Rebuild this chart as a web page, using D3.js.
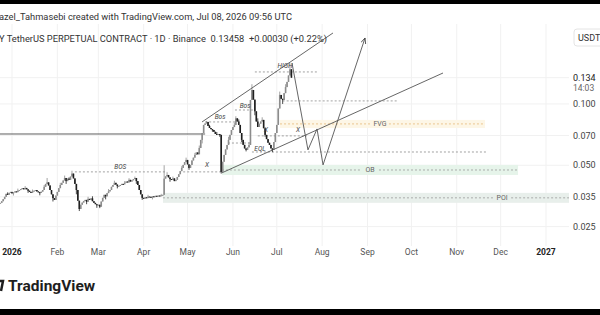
<!DOCTYPE html>
<html>
<head>
<meta charset="utf-8">
<script src="https://cdn.jsdelivr.net/npm/d3@7/dist/d3.min.js"></script>
<style>
    body { margin: 0; background: #fff; overflow: hidden; }
    svg { display: block; font-family: Roboto, "Noto Sans", sans-serif; }
</style>
</head>
<body>
<div id="chart"></div>
<script>
var svgWidth = 600;
var svgHeight = 315;

// Daily closes, first candle on 2025-12-24
var startDay = Date.UTC(2025, 11, 24);
var closes = [
    0.0327, 0.0333, 0.0341, 0.0350, 0.0362, 0.0358, 0.0366, 0.0370,
    0.0364, 0.0368, 0.0372, 0.0369, 0.0375, 0.0378,
    0.0382, 0.0386, 0.0381, 0.0387, 0.0381, 0.0375, 0.0370,
    0.0366, 0.0372, 0.0375, 0.0378, 0.0372, 0.0369, 0.0366,
    0.0371, 0.0378, 0.0392, 0.0405, 0.0412,
    0.0398, 0.0378, 0.0360, 0.0345, 0.0338,
    0.0355, 0.0370, 0.0386, 0.0400, 0.0410, 0.0421, 0.0433,
    0.0418, 0.0430, 0.0424, 0.0440, 0.0455,
    0.0431, 0.0405, 0.0378, 0.0335, 0.0305,
    0.0320, 0.0328, 0.0334, 0.0338, 0.0331, 0.0342, 0.0338,
    0.0344, 0.0333, 0.0327, 0.0322, 0.0318, 0.0320, 0.0313,
    0.0332, 0.0346, 0.0358, 0.0352, 0.0365, 0.0372, 0.0378,
    0.0392, 0.0400, 0.0410, 0.0402, 0.0395, 0.0396,
    0.0400, 0.0405, 0.0403, 0.0410, 0.0416, 0.0412, 0.0424,
    0.0416, 0.0422, 0.0428, 0.0433, 0.0418, 0.0400,
    0.0378, 0.0360, 0.0346,
    0.0343, 0.0348, 0.0345, 0.0351, 0.0350, 0.0347, 0.0352, 0.0349, 0.0354,
    0.0351, 0.0355, 0.0353, 0.0356, 0.0358,
    0.0430, 0.0441, 0.0448, 0.0436, 0.0428, 0.0424,
    0.0431, 0.0418, 0.0424, 0.0438, 0.0452, 0.0468, 0.0485,
    0.0502, 0.0518, 0.0531, 0.0505, 0.0485,
    0.0502, 0.0528, 0.0545, 0.0562, 0.0578, 0.0566, 0.0608,
    0.0666, 0.0720, 0.0789, 0.0802, 0.0816,
    0.0780, 0.0762, 0.0752, 0.0745, 0.0730, 0.0712, 0.0705, 0.0712, 0.0705,
    0.0464,
    0.0520, 0.0562, 0.0598, 0.0629, 0.0666, 0.0705, 0.0745,
    0.0770, 0.0789, 0.0850,
    0.0820, 0.0789, 0.0720, 0.0666,
    0.0630, 0.0605, 0.0595, 0.0612, 0.0629,
    0.1046, 0.1171,
    0.1050, 0.0920, 0.0820, 0.0771, 0.0800, 0.0820, 0.0835,
    0.0760, 0.0705, 0.0672, 0.0645, 0.0629, 0.0605, 0.0595,
    0.0650, 0.0720, 0.0789, 0.0950, 0.1107,
    0.1060, 0.1046, 0.1130, 0.1210, 0.1283,
    0.1380, 0.1480, 0.1346
];
// wicks that stick out past the bodies: [day index, price]
var highWicks = [
    [5, 0.0368], [12, 0.0384], [17, 0.0395], [22, 0.0380], [30, 0.0400], [32, 0.0433],
    [41, 0.0410], [44, 0.0445], [47, 0.0436], [49, 0.0470], [60, 0.0350], [63, 0.0352],
    [74, 0.0382], [78, 0.0420], [85, 0.0418], [88, 0.0432], [92, 0.0440], [101, 0.0358],
    [110, 0.0362], [112, 0.0500], [114, 0.0462], [118, 0.0440], [124, 0.0495], [127, 0.0545],
    [133, 0.0575], [136, 0.0625], [141, 0.0825], [143, 0.0790], [148, 0.0728], [156, 0.0690],
    [160, 0.0810], [161, 0.0870], [163, 0.0840], [170, 0.0650], [172, 0.1250], [176, 0.0850],
    [179, 0.0860], [183, 0.0668], [191, 0.1150], [195, 0.1250], [198, 0.1580]
];
var lowWicks = [
    [9, 0.0355], [19, 0.0366], [27, 0.0356], [36, 0.0332], [45, 0.0405], [52, 0.0360],
    [54, 0.0298], [59, 0.0322], [66, 0.0309], [68, 0.0308], [72, 0.0340], [80, 0.0385],
    [93, 0.0405], [97, 0.0338], [104, 0.0340], [116, 0.0415], [129, 0.0475], [138, 0.0640],
    [145, 0.0730], [150, 0.0690], [151, 0.0455], [155, 0.0600], [165, 0.0650], [168, 0.0585],
    [174, 0.0880], [181, 0.0690], [186, 0.0580], [189, 0.0740], [193, 0.1000]
];

var monthTicks = ["2026-01-01", "2026-02-01", "2026-03-01", "2026-04-01", "2026-05-01", "2026-06-01",
    "2026-07-01", "2026-08-01", "2026-09-01", "2026-10-01", "2026-11-01", "2026-12-01", "2027-01-01"];
var monthLabels = ["2026", "Feb", "Mar", "Apr", "May", "Jun", "Jul", "Aug", "Sep", "Oct", "Nov", "Dec", "2027"];
var priceTicks = [0.100, 0.070, 0.050, 0.035, 0.025];
var lastPrice = 0.13458;
var lastPriceLabel = "0.134";
var lastTime = "14:03";

// drawings: [from day, to day, price]
var solidLevels = [[0, 140, 0.0712]];
var dashedLevels = [
    [51, 114, 0.0464], [125, 151.5, 0.0464], [140, 160.4, 0.0816], [160.4, 174, 0.0934],
    [155.6, 170.7, 0.0643], [174, 216.5, 0.1436], [176, 209.6, 0.0697], [172, 332.7, 0.0581],
    [193, 272, 0.1035]
];
// zones
var zoneNames = ["FVG", "OB", "POI"];
var zoneDays = [[191.2, 331.3], [151.5, 353.9], [111.2, 392]];
var zonePrices = [[0.0835, 0.0762, 0.0798], [0.0502, 0.0448, 0.0474], [0.0366, 0.0327, 0.0346]];
var zoneLabelDays = [259.5, 252.7, 343];
var zoneFills = ["#fdf6e6", "#e6f4ea", "#e8efeb"];
var zoneLines = ["#e6b978", "#9a9a9a", "#9a9a9a"];

var markLabels = [
    ["BOS", 82, 0.0490], ["X", 141.3, 0.0502], ["Bos", 150.2, 0.0863], ["Bos", 167.3, 0.0977],
    ["HIGH", 194.6, 0.1537], ["X", 181.6, 0.0745], ["X", 203.5, 0.0745], ["EQL", 177.5, 0.0601]
];
var channelLines = [
    [[137.9, 0.0816], [227.4, 0.2231]],
    [[151.5, 0.0459], [302.6, 0.1419]]
];
var projection = [[199.4, 0.1588], [210.3, 0.0595], [216.5, 0.0754], [220.6, 0.0502], [249.3, 0.2108]];

function dayDate(i) {
    return new Date(startDay + i * 864e5);
}

var svg = d3.select("#chart")
    .append("svg")
    .attr("width", svgWidth)
    .attr("height", svgHeight);

var xScale = d3.scaleUtc()
    .domain([new Date("2026-01-01"), new Date("2027-01-01")])
    .range([12, 546]);

var yScale = d3.scaleLog()
    .domain([0.0203, 0.236])
    .range([245, 28]);

var plotRight = 569;

// grid
svg.append("g")
    .selectAll("line")
    .data(monthTicks)
    .enter()
    .append("line")
    .attr("x1", d => xScale(new Date(d)))
    .attr("x2", d => xScale(new Date(d)))
    .attr("y1", 24)
    .attr("y2", 246)
    .attr("stroke", "#f1f1f1");

svg.append("g")
    .selectAll("line")
    .data(priceTicks.concat([lastPrice]))
    .enter()
    .append("line")
    .attr("x1", 0)
    .attr("x2", plotRight)
    .attr("y1", d => yScale(d))
    .attr("y2", d => yScale(d))
    .attr("stroke", "#f1f1f1");

svg.append("clipPath").attr("id", "plotClip")
    .append("rect").attr("x", 0).attr("y", 20).attr("width", plotRight).attr("height", 226);

var plot = svg.append("g").attr("clip-path", "url(#plotClip)");

// zones
var zones = zoneNames.map((name, k) => ({
    name: name, d0: zoneDays[k][0], d1: zoneDays[k][1],
    top: zonePrices[k][0], bottom: zonePrices[k][1], mid: zonePrices[k][2],
    labelDay: zoneLabelDays[k], fill: zoneFills[k], line: zoneLines[k]
}));

plot.selectAll(".zone")
    .data(zones)
    .enter()
    .append("rect")
    .attr("x", d => xScale(dayDate(d.d0)))
    .attr("width", d => xScale(dayDate(d.d1)) - xScale(dayDate(d.d0)))
    .attr("y", d => yScale(d.top))
    .attr("height", d => yScale(d.bottom) - yScale(d.top))
    .attr("fill", d => d.fill);

zones.forEach(function (z) {
    var lx = xScale(dayDate(z.labelDay));
    var y = yScale(z.mid);
    var x0 = xScale(dayDate(z.d0));
    var x1 = xScale(dayDate(z.d1));
    plot.append("line")
        .attr("x1", x0).attr("x2", lx - 9)
        .attr("y1", y).attr("y2", y)
        .attr("stroke", z.line).attr("stroke-dasharray", "2,2").attr("stroke-width", 0.8);
    plot.append("line")
        .attr("x1", lx + 9).attr("x2", x1)
        .attr("y1", y).attr("y2", y)
        .attr("stroke", z.line).attr("stroke-dasharray", "2,2").attr("stroke-width", 0.8);
    plot.append("text")
        .attr("x", lx).attr("y", y)
        .attr("dy", "0.35em")
        .attr("text-anchor", "middle")
        .attr("font-size", 7)
        .attr("fill", "#666")
        .text(z.name);
});

// levels
plot.selectAll(".dashed")
    .data(dashedLevels)
    .enter()
    .append("line")
    .attr("x1", d => xScale(dayDate(d[0])))
    .attr("x2", d => xScale(dayDate(d[1])))
    .attr("y1", d => yScale(d[2]))
    .attr("y2", d => yScale(d[2]))
    .attr("stroke", "#8a8a8a")
    .attr("stroke-width", 0.8)
    .attr("stroke-dasharray", "2,2");

plot.selectAll(".solid")
    .data(solidLevels)
    .enter()
    .append("line")
    .attr("x1", d => xScale(dayDate(d[0])) - 2)
    .attr("x2", d => xScale(dayDate(d[1])))
    .attr("y1", d => yScale(d[2]))
    .attr("y2", d => yScale(d[2]))
    .attr("stroke", "#333")
    .attr("stroke-width", 0.8);

// candles
var candles = closes.map(function (c, i) {
    var o = i > 0 ? closes[i - 1] : c;
    return { i: i, open: o, close: c, high: Math.max(o, c), low: Math.min(o, c) };
});
highWicks.forEach(w => { candles[w[0]].high = Math.max(candles[w[0]].high, w[1]); });
lowWicks.forEach(w => { candles[w[0]].low = Math.min(candles[w[0]].low, w[1]); });

plot.selectAll(".wick")
    .data(candles)
    .enter()
    .append("line")
    .attr("x1", d => xScale(dayDate(d.i)))
    .attr("x2", d => xScale(dayDate(d.i)))
    .attr("y1", d => yScale(d.high))
    .attr("y2", d => yScale(d.low))
    .attr("stroke", d => d.close >= d.open ? "#8c8c8c" : "#1f1f1f")
    .attr("stroke-width", 0.8);

plot.selectAll(".body")
    .data(candles)
    .enter()
    .append("rect")
    .attr("x", d => xScale(dayDate(d.i)) - 0.8)
    .attr("width", 1.6)
    .attr("y", d => yScale(Math.max(d.open, d.close)))
    .attr("height", d => Math.max(1, Math.abs(yScale(d.open) - yScale(d.close))))
    .attr("fill", d => d.close >= d.open ? "#8c8c8c" : "#1f1f1f");

// channel and projection
var lineGen = d3.line()
    .x(d => xScale(dayDate(d[0])))
    .y(d => yScale(d[1]));

plot.selectAll(".channel")
    .data(channelLines)
    .enter()
    .append("path")
    .attr("d", lineGen)
    .attr("fill", "none")
    .attr("stroke", "#555")
    .attr("stroke-width", 0.9);

svg.append("defs").append("marker")
    .attr("id", "arrow")
    .attr("viewBox", "0 0 10 10")
    .attr("refX", 9).attr("refY", 5)
    .attr("markerWidth", 7).attr("markerHeight", 7)
    .attr("orient", "auto")
    .append("path")
    .attr("d", "M0,1 L9,5 L0,9")
    .attr("fill", "none")
    .attr("stroke", "#444")
    .attr("stroke-width", 1.3);

plot.append("path")
    .attr("d", lineGen(projection))
    .attr("fill", "none")
    .attr("stroke", "#555")
    .attr("stroke-width", 0.9)
    .attr("marker-end", "url(#arrow)");

// small labels
plot.selectAll(".mark")
    .data(markLabels)
    .enter()
    .append("text")
    .attr("x", d => xScale(dayDate(d[1])))
    .attr("y", d => yScale(d[2]))
    .attr("dy", "0.35em")
    .attr("text-anchor", "middle")
    .attr("font-size", 6.5)
    .attr("font-style", "italic")
    .attr("fill", "#444")
    .text(d => d[0]);

// time axis
var timeAxis = svg.append("g");
timeAxis.selectAll("text")
    .data(monthTicks)
    .enter()
    .append("text")
    .attr("x", d => xScale(new Date(d)))
    .attr("y", 255)
    .attr("text-anchor", "middle")
    .attr("font-size", 8.5)
    .attr("font-weight", (d, k) => (k === 0 || k === monthTicks.length - 1) ? "bold" : "normal")
    .attr("fill", (d, k) => (k === 0 || k === monthTicks.length - 1) ? "#222" : "#555")
    .text((d, k) => monthLabels[k]);

// price axis
var priceAxis = svg.append("g");
priceAxis.selectAll("text")
    .data(priceTicks)
    .enter()
    .append("text")
    .attr("x", 573)
    .attr("y", d => yScale(d))
    .attr("dy", "0.35em")
    .attr("font-size", 9)
    .attr("fill", "#444")
    .text(d => d3.format(".3f")(d));

priceAxis.append("text")
    .attr("x", 573)
    .attr("y", yScale(lastPrice))
    .attr("dy", "0.35em")
    .attr("font-size", 9)
    .attr("fill", "#222")
    .text(lastPriceLabel);

priceAxis.append("text")
    .attr("x", 573)
    .attr("y", yScale(lastPrice) + 10)
    .attr("dy", "0.35em")
    .attr("font-size", 8.5)
    .attr("fill", "#666")
    .text(lastTime);

// currency box
svg.append("rect")
    .attr("x", 574).attr("y", 29)
    .attr("width", 40).attr("height", 17)
    .attr("rx", 3)
    .attr("fill", "#fff")
    .attr("stroke", "#e4e4e4");
svg.append("text")
    .attr("x", 578).attr("y", 41)
    .attr("font-size", 9)
    .attr("fill", "#333")
    .text("USDT");

// header
svg.append("rect").attr("x", 0).attr("y", 0).attr("width", svgWidth).attr("height", 4).attr("fill", "#000");
svg.append("text")
    .attr("x", -1).attr("y", 20)
    .attr("font-size", 9.3)
    .attr("fill", "#333")
    .text("azel_Tahmasebi created with TradingView.com, Jul 08, 2026 09:56 UTC");
svg.append("text")
    .attr("x", -1).attr("y", 42)
    .attr("font-size", 9.3)
    .attr("fill", "#333")
    .attr("xml:space", "preserve")
    .text("Y TetherUS PERPETUAL CONTRACT \u00b7 1D \u00b7 Binance  0.13458  +0.00030 (+0.22%)");

// footer
svg.append("text")
    .attr("x", 8).attr("y", 291)
    .attr("font-size", 15.5)
    .attr("font-weight", "bold")
    .attr("fill", "#1e1e1e")
    .text("TradingView");
svg.append("path")
    .attr("d", "M-2,281 L3,281 L1,291")
    .attr("fill", "none")
    .attr("stroke", "#1e1e1e")
    .attr("stroke-width", 2.5);
svg.append("rect").attr("x", 0).attr("y", 309).attr("width", svgWidth).attr("height", 6).attr("fill", "#000");
</script>
</body>
</html>
